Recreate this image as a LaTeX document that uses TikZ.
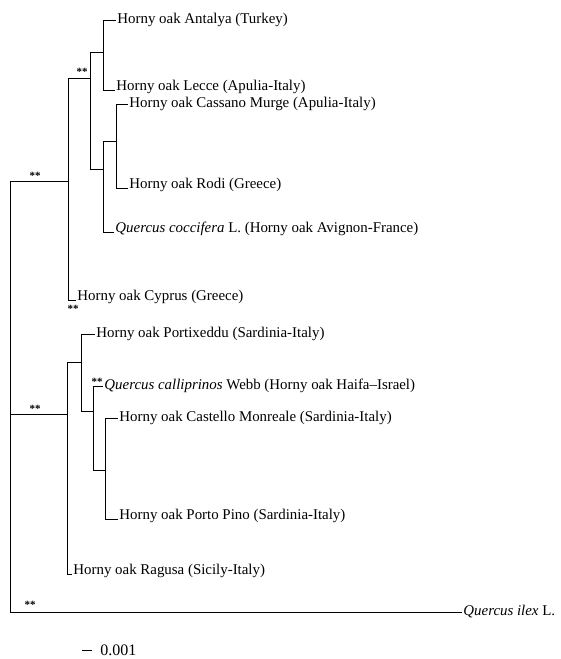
\documentclass[tikz,border=0pt]{standalone}
\usepackage{fontspec}
\setmainfont{Liberation Serif}
\begin{document}
\begin{tikzpicture}[x=1pt,y=-1pt,line width=0.9pt,
        lf/.style={anchor=west,inner sep=1pt,font=\fontsize{14.9}{16}\selectfont},
        lfb/.style={lf,anchor=base west},
        bs/.style={inner sep=0,font=\fontsize{11}{12}\selectfont\bfseries}]
    \useasboundingbox (0,0) rectangle (560,659);
    % inner nodes of the tree
    \coordinate (root) at (10,400);
    \coordinate (nA) at (68,181);
    \coordinate (nB) at (90,78);
    \coordinate (nC) at (103,52);
    \coordinate (nD) at (103,169);
    \coordinate (nE) at (116,141);
    \coordinate (nF) at (67,414);
    \coordinate (nG) at (81,362);
    \coordinate (nH) at (93,411);
    \coordinate (nI) at (105,470);
    % leaves
    \node[lf] (antalya) at (116,20) {Horny oak Antalya (Turkey)};
    \node[lfb] (lecce) at (115,90) {Horny oak Lecce (Apulia-Italy)};
    \node[lf] (cassano) at (128,104) {Horny oak Cassano Murge (Apulia-Italy)};
    \node[lfb] (rodi) at (128,188) {Horny oak Rodi (Greece)};
    \node[lfb] (coccifera) at (114,232) {\textit{Quercus coccifera} L. (Horny oak Avignon-France)};
    \node[lfb] (cyprus) at (76,300) {Horny oak Cyprus (Greece)};
    \node[lf] (portixeddu) at (95,334) {Horny oak Portixeddu (Sardinia-Italy)};
    \node[lf] (calliprinos) at (103,386) {\textit{Quercus calliprinos} Webb (Horny oak Haifa--Israel)};
    \node[lf] (castello) at (118,418) {Horny oak Castello Monreale (Sardinia-Italy)};
    \node[lfb] (portopino) at (118,519) {Horny oak Porto Pino (Sardinia-Italy)};
    \node[lfb] (ragusa) at (72,574) {Horny oak Ragusa (Sicily-Italy)};
    \node[lf] (ilex) at (462,612) {\textit{Quercus ilex} L.};
    % branches
    \draw (root) |- (nA);
    \draw (root) |- (nF);
    \draw (root) |- (ilex.west);
    \draw (nA) |- (nB);
    \draw (nA) |- (cyprus.base west);
    \draw (nB) |- (nC);
    \draw (nB) |- (nD);
    \draw (nC) |- (antalya.west);
    \draw (nC) |- (lecce.base west);
    \draw (nD) |- (nE);
    \draw (nD) |- (coccifera.base west);
    \draw (nE) |- (cassano.west);
    \draw (nE) |- (rodi.base west);
    \draw (nF) |- (nG);
    \draw (nF) |- (ragusa.base west);
    \draw (nG) |- (portixeddu.west);
    \draw (nG) |- (nH);
    \draw (nH) |- (calliprinos.west);
    \draw (nH) |- (nI);
    \draw (nI) |- (castello.west);
    \draw (nI) |- (portopino.base west);
    % bootstrap marks
    \node[bs] (bs1) at (35,176) {**};
    \node[bs] (bs2) at (82,72) {**};
    \node[bs] (bs3) at (73,309) {**};
    \node[bs] (bs4) at (35,409) {**};
    \node[bs] (bs5) at (97,382) {**};
    \node[bs] (bs6) at (30,605) {**};
    % scale bar
    \coordinate (sb1) at (82,650);
    \coordinate (sb2) at (92,650);
    \draw (sb1) -- (sb2);
    \node[lf,font=\fontsize{16}{18}\selectfont] (sbl) at (99,650) {0.001};
\end{tikzpicture}
\end{document}
